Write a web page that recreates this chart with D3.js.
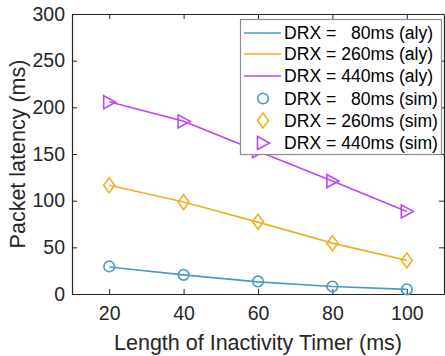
<!DOCTYPE html>
<html>
<head>
<meta charset="utf-8">
<script src="https://cdn.jsdelivr.net/npm/d3@7"></script>
<style>
  html, body { margin: 0; padding: 0; background: #fff; }
  svg { display: block; font-family: "Liberation Sans", Arial, sans-serif; }
</style>
</head>
<body>
<svg id="chart" width="445" height="356"></svg>
<script>
// Inactivity timer lengths (ms)
const timers = [20, 40, 60, 80, 100];

// Analytical packet latency (ms) per DRX cycle
const aly80  = [29, 20.5, 13, 8, 5];
const aly260 = [116.5, 98.5, 77, 54.5, 36];
const aly440 = [206, 185, 153, 121, 88.5];

// Simulated packet latency (ms) per DRX cycle
const sim80  = [29.5, 20.5, 13.5, 8, 5];
const sim260 = [116.5, 98.5, 77.5, 54.5, 36];
const sim440 = [205.5, 185, 153, 121, 88.5];

const xTicks = [20, 40, 60, 80, 100];
const yTicks = [0, 50, 100, 150, 200, 250, 300];

const seriesNames = ["DRX =   80ms", "DRX = 260ms", "DRX = 440ms"];
const colors = ["#4a9ac4", "#f0b020", "#b846ff"];
const markers = ["circle", "diamond", "triangle"];

const svg = d3.select("#chart");
const margin = { left: 72, right: 1, top: 14, bottom: 62 };
const W = 445, H = 356;
const x = d3.scaleLinear().domain([10, 110]).range([margin.left, W - margin.right]);
const y = d3.scaleLinear().domain([0, 300]).range([H - margin.bottom, margin.top]);

const axisColor = "#262626";
const tickFont = "19.5px";

// Plot box
const gx = svg.append("g").attr("transform", `translate(0,${y(0)})`)
  .call(d3.axisBottom(x).tickValues(xTicks).tickSizeInner(-5).tickSizeOuter(0).tickPadding(12));
const gxTop = svg.append("g").attr("transform", `translate(0,${y(300)})`)
  .call(d3.axisTop(x).tickValues(xTicks).tickSizeInner(-5).tickSizeOuter(0).tickFormat(""));
const gy = svg.append("g").attr("transform", `translate(${x(10)},0)`)
  .call(d3.axisLeft(y).tickValues(yTicks).tickSizeInner(-5).tickSizeOuter(0).tickPadding(7));
const gyRight = svg.append("g").attr("transform", `translate(${x(110)},0)`)
  .call(d3.axisRight(y).tickValues(yTicks).tickSizeInner(-5).tickSizeOuter(0).tickFormat(""));

[gx, gxTop, gy, gyRight].forEach(g => {
  g.selectAll("path.domain").attr("stroke", axisColor).attr("stroke-width", 1.2);
  g.selectAll(".tick line").attr("stroke", axisColor).attr("stroke-width", 1);
  g.selectAll(".tick text").attr("fill", axisColor).style("font-size", tickFont)
    .style("font-family", "'Liberation Sans', Arial, sans-serif");
});

// Axis titles
svg.append("text")
  .attr("x", (x(10) + x(110)) / 2).attr("y", 350)
  .attr("text-anchor", "middle").attr("fill", axisColor)
  .style("font-size", "21.5px")
  .text("Length of Inactivity Timer (ms)");
svg.append("text")
  .attr("transform", `translate(25,${(y(0) + y(300)) / 2}) rotate(-90)`)
  .attr("text-anchor", "middle").attr("fill", axisColor)
  .style("font-size", "21.5px")
  .text("Packet latency (ms)");

const alyData = [aly80, aly260, aly440];
const simData = [sim80, sim260, sim440];

const line = d3.line().x((d, i) => x(timers[i])).y(d => y(d));

function markerPath(kind) {
  if (kind === "diamond") return "M0,-7.5L5.5,0L0,7.5L-5.5,0Z";
  return "M-5.5,-6.5L6.5,0L-5.5,6.5Z";
}

function drawMarker(g, kind, cx, cy, color) {
  if (kind === "circle") {
    g.append("circle").attr("cx", cx).attr("cy", cy).attr("r", 5.3)
      .attr("fill", "none").attr("stroke", color).attr("stroke-width", 1.6);
  } else {
    g.append("path").attr("d", markerPath(kind))
      .attr("transform", `translate(${cx},${cy})`)
      .attr("fill", "none").attr("stroke", color).attr("stroke-width", 1.6)
      .attr("stroke-linejoin", "miter");
  }
}

const plot = svg.append("g");
alyData.forEach((vals, k) => {
  plot.append("path").datum(vals).attr("d", line)
    .attr("fill", "none").attr("stroke", colors[k]).attr("stroke-width", 1.6);
});
simData.forEach((vals, k) => {
  vals.forEach((v, i) => drawMarker(plot, markers[k], x(timers[i]), y(v), colors[k]));
});

// Legend
const lg = svg.append("g");
lg.append("rect").attr("x", 240.5).attr("y", 19.5).attr("width", 201).attr("height", 135)
  .attr("fill", "#fff").attr("stroke", "#8c8c8c").attr("stroke-width", 1.2);
const rowY = [33, 54, 76, 98.5, 120.5, 143];
const legendFont = "17.6px";
seriesNames.forEach((name, k) => {
  lg.append("line").attr("x1", 244).attr("x2", 281).attr("y1", rowY[k]).attr("y2", rowY[k])
    .attr("stroke", colors[k]).attr("stroke-width", 1.6);
  lg.append("text").attr("x", 284).attr("y", rowY[k]).attr("dy", "0.35em")
    .attr("fill", "#000").style("font-size", legendFont).style("white-space", "pre")
    .attr("xml:space", "preserve").text(name + " (aly)");
});
seriesNames.forEach((name, k) => {
  drawMarker(lg, markers[k], 263, rowY[k + 3], colors[k]);
  lg.append("text").attr("x", 284).attr("y", rowY[k + 3]).attr("dy", "0.35em")
    .attr("fill", "#000").style("font-size", legendFont).style("white-space", "pre")
    .attr("xml:space", "preserve").text(name + " (sim)");
});
</script>
</body>
</html>
